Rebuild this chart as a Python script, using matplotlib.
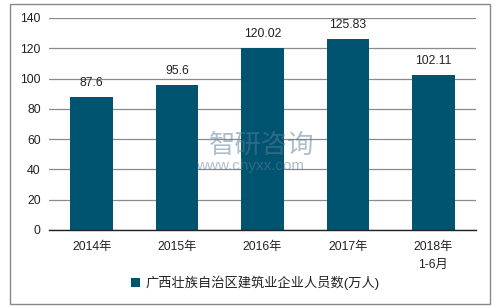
import matplotlib
matplotlib.use("Agg")
import matplotlib.pyplot as plt
from matplotlib.patches import Rectangle

plt.rcParams['font.family'] = ['Liberation Sans', 'Noto Sans CJK SC', 'DejaVu Sans']

categories = ["2014年", "2015年", "2016年", "2017年", "2018年\n1-6月"]
values = [87.6, 95.6, 120.02, 125.83, 102.11]
value_labels = ["87.6", "95.6", "120.02", "125.83", "102.11"]
series_name = "广西壮族自治区建筑业企业人员数(万人)"
yticks = [0, 20, 40, 60, 80, 100, 120, 140]

W, H = 497, 307
fig = plt.figure(figsize=(W / 100, H / 100), dpi=100)
ax = fig.add_axes([49 / W, 1 - 230 / H, (476 - 49) / W, (230 - 18) / H])

bar_color = "#005470"
x = list(range(len(categories)))
bars = ax.bar(x, values, width=0.5, color=bar_color, zorder=3, label=series_name)
ax.set_xlim(-0.5, len(categories) - 0.5)
ax.set_ylim(0, 140)
ax.set_yticks(yticks)
ax.set_yticklabels([str(t) for t in yticks], fontsize=8.8, color="#222222")
ax.set_xticks(x)
ax.set_xticklabels(categories, fontsize=8.8, color="#222222", linespacing=1.6)
ax.tick_params(axis='both', length=0, pad=6)
ax.tick_params(axis='x', pad=8)
ax.yaxis.grid(True, color="#8a8a8a", linewidth=0.9, zorder=0)
ax.set_axisbelow(True)
for s in ["top", "right", "left"]:
    ax.spines[s].set_visible(False)
ax.spines["bottom"].set_color("#222222")
ax.spines["bottom"].set_linewidth(1.0)
ax.spines["bottom"].set_zorder(4)

for xi, v, lbl in zip(x, values, value_labels):
    ax.annotate(lbl, (xi, v), xytext=(0, 6), textcoords="offset points",
                ha="center", va="bottom", fontsize=8.8, color="#222222")

# watermark
fig.text(262 / W, 1 - 145 / H, "智研咨询", fontsize=19, color="#5b7f95", alpha=0.5,
         ha="center", va="center", family=['Noto Sans CJK SC'])
fig.text(250 / W, 1 - 166 / H, "www.chyxx.com", fontsize=11, color="#5b7f95", alpha=0.5,
         ha="center", va="center")

leg = fig.legend(handles=[bars], labels=[series_name], loc="center",
                 bbox_to_anchor=(255 / W, 1 - 283 / H), frameon=False,
                 fontsize=9.5, handlelength=0.7, handleheight=0.7,
                 handletextpad=0.4)
for t in leg.get_texts():
    t.set_color("#222222")

fig.patches.append(Rectangle((10 / W, 1 - 304 / H), 480 / W, 300 / H,
                             transform=fig.transFigure, fill=False,
                             edgecolor="#888888", linewidth=1.0))

fig.savefig("out.png", dpi=100)
